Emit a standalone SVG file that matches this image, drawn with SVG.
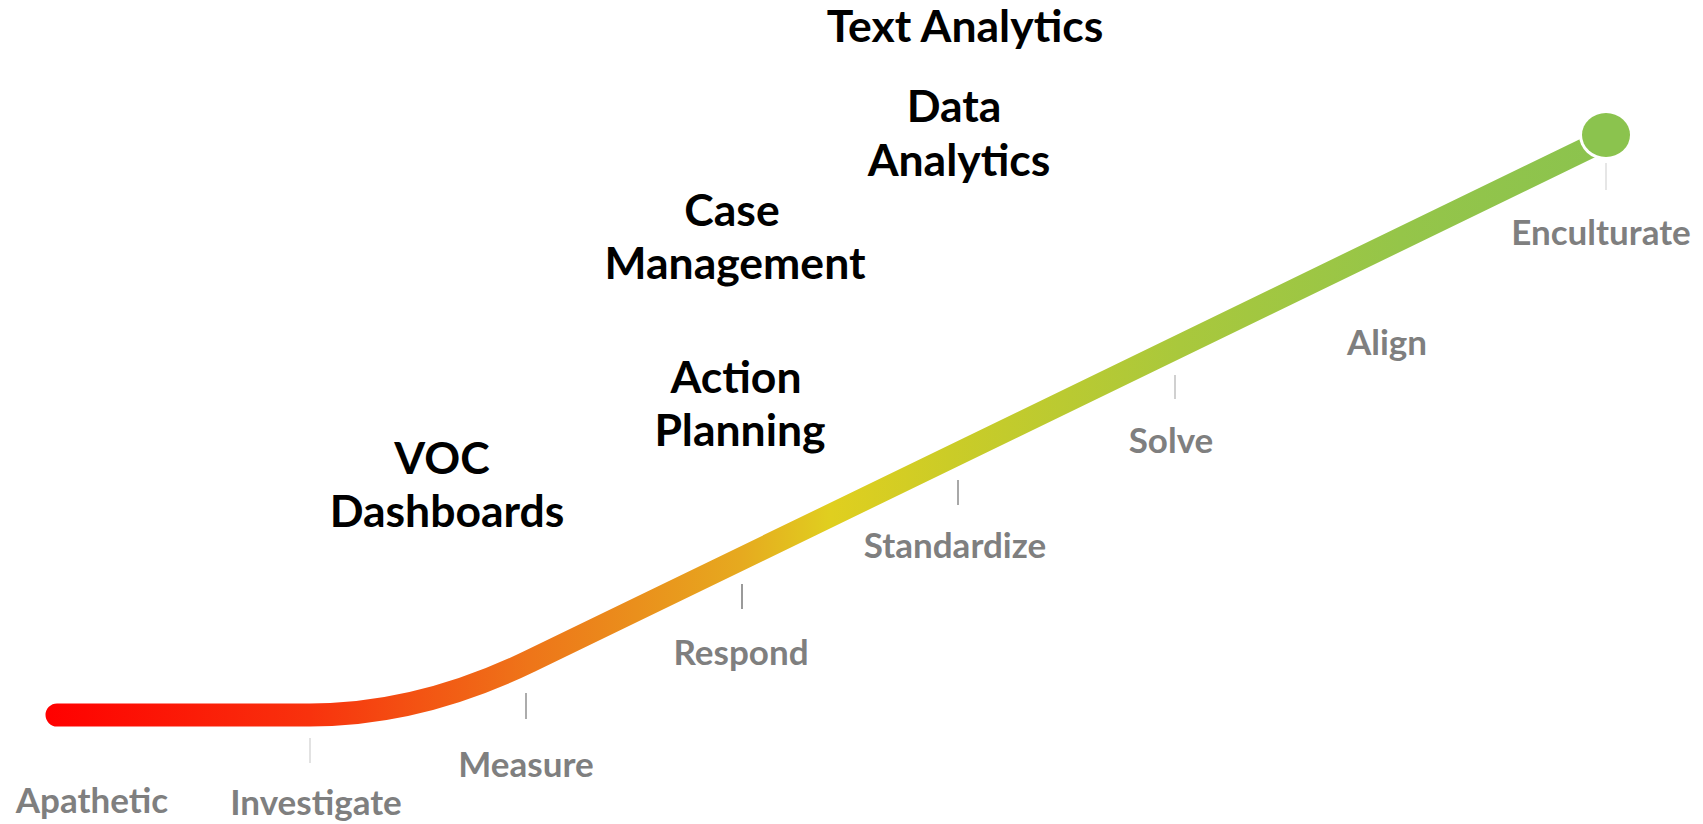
<svg xmlns="http://www.w3.org/2000/svg" width="1703" height="824" viewBox="0 0 1703 824">
  <style>
    .stage { font-family: Lato, "Liberation Sans", sans-serif; font-weight: 700; font-size: 35px; fill: #7f7f7f; text-anchor: middle; }
    .tool { font-family: Lato, "Liberation Sans", sans-serif; font-weight: 700; font-size: 44.5px; fill: #000000; text-anchor: middle; }
    .tick { stroke-width: 2; }
  </style>
  <defs>
    <linearGradient id="maturity" gradientUnits="userSpaceOnUse" x1="46" y1="0" x2="1606" y2="0">
      <stop offset="0" stop-color="#ff0000"/>
      <stop offset="0.169" stop-color="#f8320d"/>
      <stop offset="0.31" stop-color="#ee7519"/>
      <stop offset="0.446" stop-color="#e6aa1f"/>
      <stop offset="0.503" stop-color="#e0cf1f"/>
      <stop offset="0.579" stop-color="#cbcc27"/>
      <stop offset="0.727" stop-color="#a9c83c"/>
      <stop offset="0.868" stop-color="#95c549"/>
      <stop offset="1" stop-color="#8bc34e"/>
    </linearGradient>
  </defs>
  <rect width="1703" height="824" fill="#ffffff"/>

  <!-- maturity track -->
  <g id="connectors">
    <path d="M57,715 L310,715 Q419,715 530,661.2 L1592,146" fill="none" stroke="url(#maturity)" stroke-width="23" stroke-linecap="round"/>
    <ellipse cx="1606" cy="135" rx="27" ry="25" fill="#ffffff"/>
    <ellipse cx="1606" cy="135" rx="24" ry="22" fill="#8bc34e"/>
  </g>

  <!-- stages along the track -->
  <g id="apathetic">
    <text class="stage" x="92" y="813">Apathetic</text>
  </g>
  <g id="investigate">
    <line class="tick" x1="310" y1="738" x2="310" y2="763" stroke="#e2e2e2"/>
    <text class="stage" x="316" y="815">Investigate</text>
  </g>
  <g id="measure">
    <line class="tick" x1="526" y1="693" x2="526" y2="719" stroke="#acacac"/>
    <text class="stage" x="526" y="777">Measure</text>
  </g>
  <g id="respond">
    <line class="tick" x1="742" y1="584" x2="742" y2="609" stroke="#9a9a9a"/>
    <text class="stage" x="741" y="665">Respond</text>
  </g>
  <g id="standardize">
    <line class="tick" x1="958" y1="480" x2="958" y2="505" stroke="#a8a8a8"/>
    <text class="stage" x="955" y="558">Standardize</text>
  </g>
  <g id="solve">
    <line class="tick" x1="1175" y1="375" x2="1175" y2="399" stroke="#d0d0d0"/>
    <text class="stage" x="1171" y="453">Solve</text>
  </g>
  <g id="align">
    <text class="stage" x="1387" y="355">Align</text>
  </g>
  <g id="enculturate">
    <line class="tick" x1="1606" y1="163" x2="1606" y2="190" stroke="#e6e6e6"/>
    <text class="stage" x="1601" y="245">Enculturate</text>
  </g>

  <!-- capabilities -->
  <g id="voc-dashboards">
    <text class="tool" x="442" y="474">VOC</text>
    <text class="tool" x="447" y="527">Dashboards</text>
  </g>
  <g id="action-planning">
    <text class="tool" x="736" y="393">Action</text>
    <text class="tool" x="740" y="446">Planning</text>
  </g>
  <g id="case-management">
    <text class="tool" x="732" y="226">Case</text>
    <text class="tool" x="735" y="279">Management</text>
  </g>
  <g id="data-analytics">
    <text class="tool" x="954" y="122">Data</text>
    <text class="tool" x="959" y="176">Analytics</text>
  </g>
  <g id="text-analytics">
    <text class="tool" x="965" y="42">Text Analytics</text>
  </g>
</svg>
